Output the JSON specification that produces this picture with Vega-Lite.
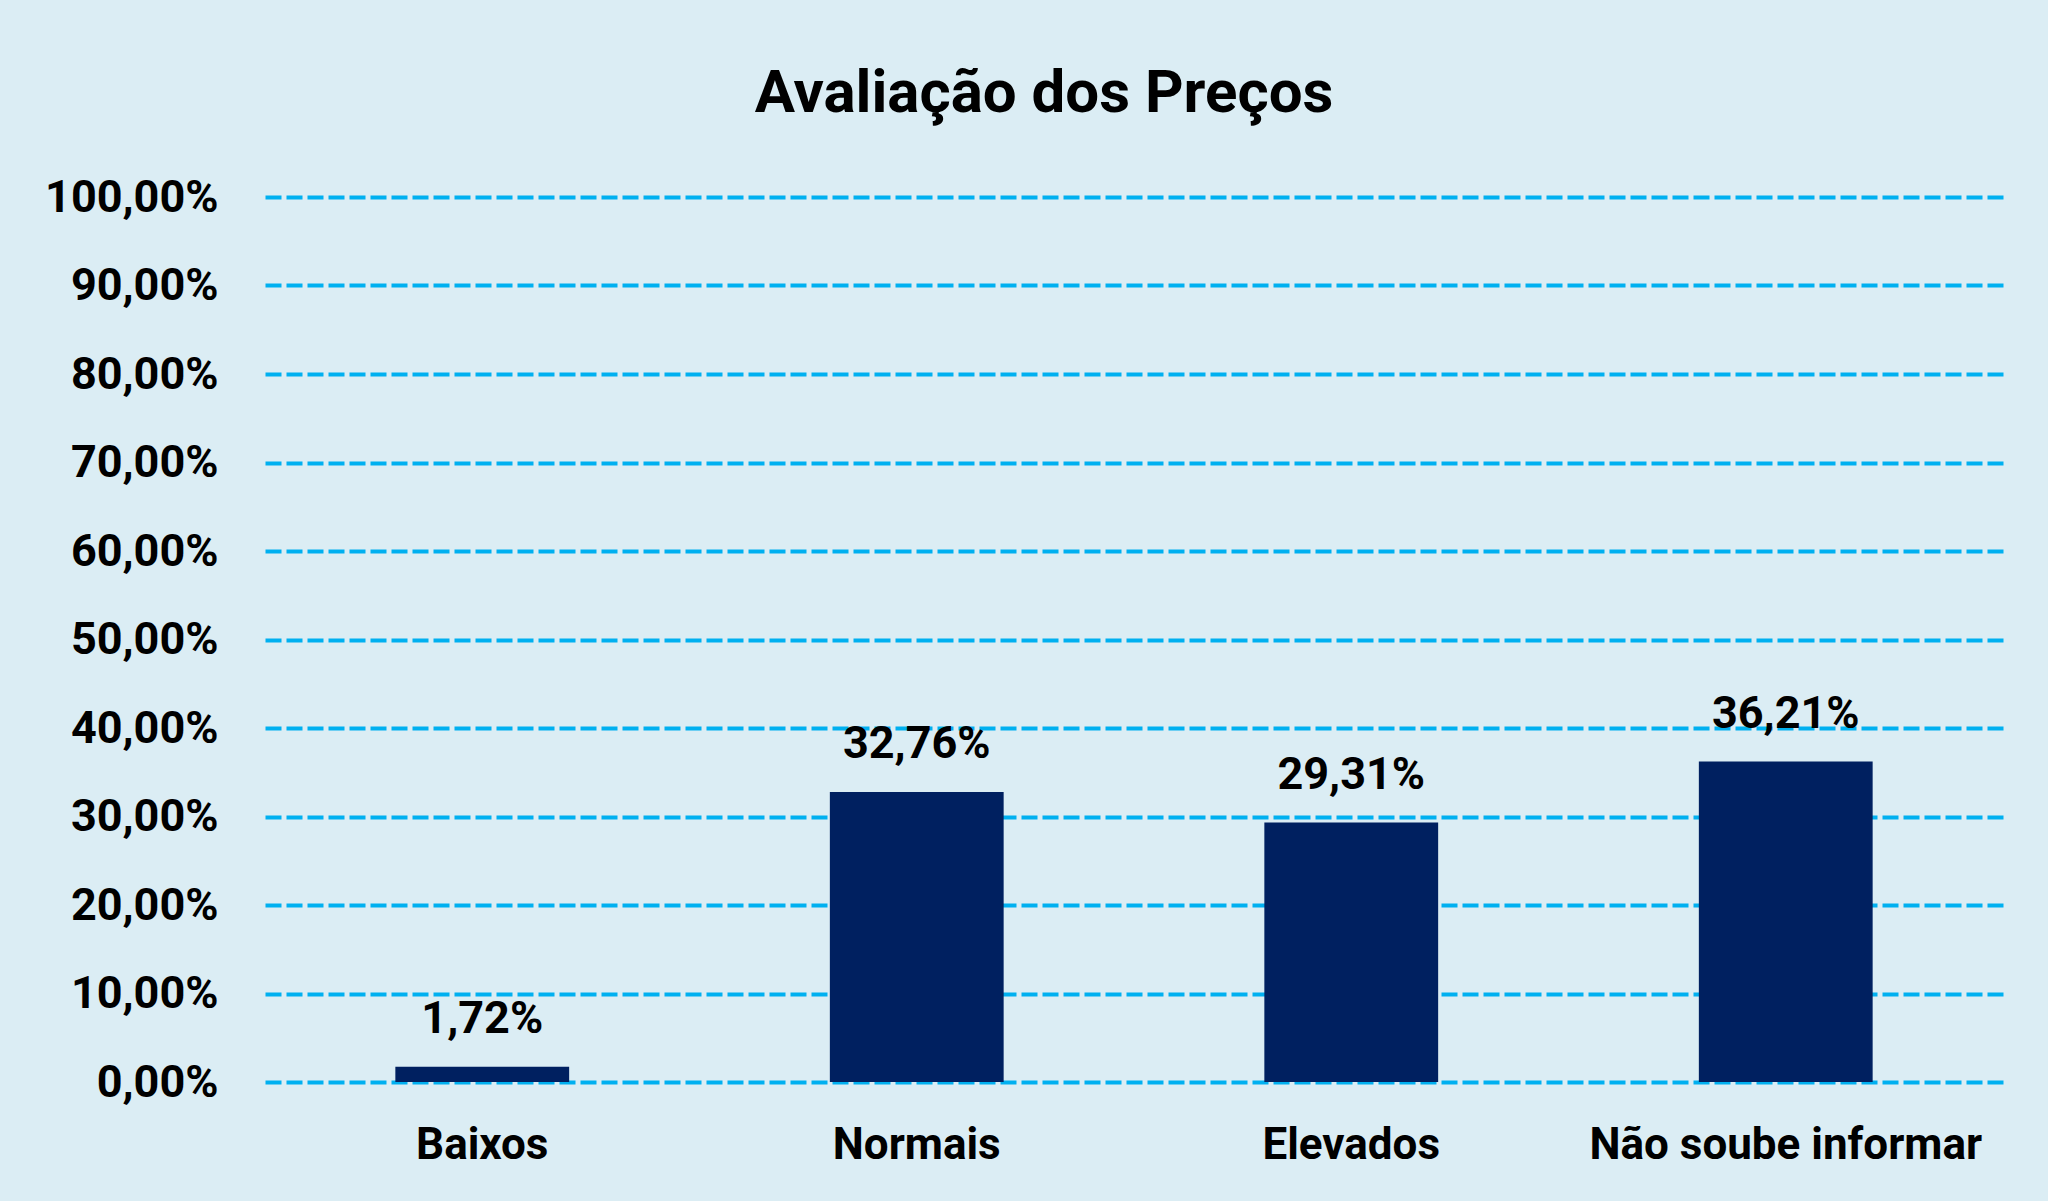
{
  "$schema": "https://vega.github.io/schema/vega-lite/v6.json",
  "width": 1738,
  "height": 885,
  "autosize": {"type": "none"},
  "padding": {"left": 265, "top": 197, "right": 45, "bottom": 119},
  "background": "#DBEDF4",
  "title": {
    "text": "Avaliação dos Preços",
    "font": "Roboto",
    "fontSize": 60,
    "fontWeight": "bold",
    "color": "#000000",
    "anchor": "middle",
    "dx": -90,
    "offset": 50
  },
  "data": {
    "values": [
      {"categoria": "Baixos", "valor": 0.0172},
      {"categoria": "Normais", "valor": 0.3276},
      {"categoria": "Elevados", "valor": 0.2931},
      {"categoria": "Não soube informar", "valor": 0.3621}
    ]
  },
  "encoding": {
    "x": {
      "field": "categoria",
      "type": "nominal",
      "sort": null,
      "scale": {"paddingInner": 0.6, "paddingOuter": 0.3},
      "axis": {
        "title": null,
        "labelAngle": 0,
        "domain": false,
        "ticks": false,
        "tickSize": 0,
        "labelFont": "Roboto",
        "labelFontSize": 44,
        "labelFontWeight": "bold",
        "labelColor": "#000000",
        "labelBaseline": "alphabetic",
        "labelPadding": 76,
        "labelLimit": 0,
        "grid": false
      }
    },
    "y": {
      "field": "valor",
      "type": "quantitative",
      "scale": {"domain": [0, 1], "nice": false},
      "axis": {
        "title": null,
        "values": [0, 0.1, 0.2, 0.3, 0.4, 0.5, 0.6, 0.7, 0.8, 0.9, 1],
        "format": ".2%",
        "domain": false,
        "ticks": false,
        "tickSize": 0,
        "labelFont": "Roboto",
        "labelFontSize": 45,
        "labelFontWeight": "bold",
        "labelColor": "#000000",
        "labelPadding": 47,
        "labelLimit": 0,
        "grid": true,
        "gridColor": "#00B0F0",
        "gridWidth": 4,
        "gridDash": [16, 5],
        "gridOpacity": 1
      }
    }
  },
  "layer": [
    {"mark": {"type": "bar", "color": "#002060"}},
    {
      "mark": {
        "type": "text",
        "baseline": "alphabetic",
        "align": "center",
        "dy": -34,
        "font": "Roboto",
        "fontSize": 45,
        "fontWeight": "bold",
        "color": "#000000"
      },
      "encoding": {"text": {"field": "valor", "type": "quantitative", "format": ".2%"}}
    }
  ],
  "config": {
    "view": {"stroke": null},
    "locale": {
      "number": {
        "decimal": ",",
        "thousands": ".",
        "grouping": [3],
        "currency": ["R$", ""]
      }
    }
  }
}
